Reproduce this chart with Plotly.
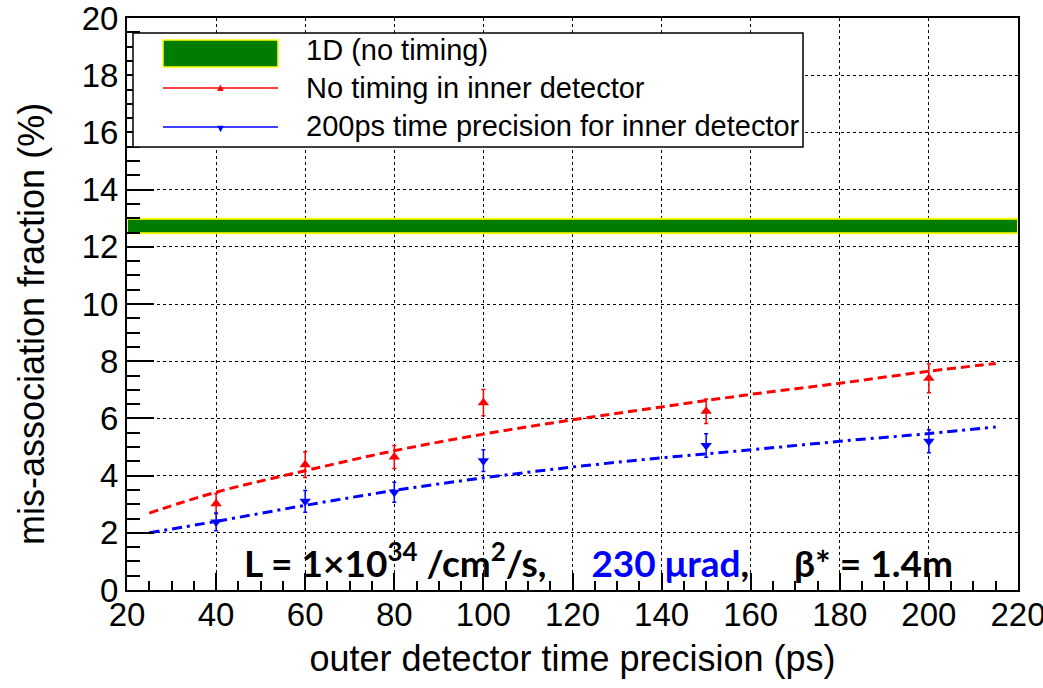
import plotly.graph_objects as go

# ---- data ----
outer_ps = [40, 60, 80, 100, 150, 200]
red_vals = [3.02, 4.38, 4.65, 6.55, 6.25, 7.40]
red_errs = [0.35, 0.45, 0.40, 0.46, 0.43, 0.50]
blue_vals = [2.38, 3.10, 3.42, 4.52, 5.05, 5.20]
blue_errs = [0.31, 0.38, 0.35, 0.38, 0.41, 0.40]

fit_x = [25, 40, 60, 80, 100, 120, 140, 160, 180, 200, 215]
red_fit = [2.69, 3.42, 4.17, 4.87, 5.45, 5.95, 6.40, 6.84, 7.23, 7.65, 7.92]
blue_fit = [2.00, 2.40, 2.96, 3.48, 3.92, 4.30, 4.62, 4.90, 5.20, 5.47, 5.70]

band_x = [20, 220]
band_lo = 12.47
band_hi = 12.98

x_ticks = [20, 40, 60, 80, 100, 120, 140, 160, 180, 200, 220]
y_ticks = [0, 2, 4, 6, 8, 10, 12, 14, 16, 18, 20]

RED = "#ff0000"
BLUE = "#0000ff"
GREEN = "#007d00"
FONT = "Liberation Sans, Arial, sans-serif"

fig = go.Figure()

# 1D band
fig.add_trace(go.Scatter(
    x=[band_x[0], band_x[1], band_x[1], band_x[0], band_x[0]],
    y=[band_lo, band_lo, band_hi, band_hi, band_lo],
    fill="toself", fillcolor=GREEN, mode="lines",
    line=dict(color="#ffff00", width=2), showlegend=False, hoverinfo="skip"))

# fits
fig.add_trace(go.Scatter(x=fit_x, y=red_fit, mode="lines", line_shape="spline",
                         line=dict(color=RED, width=3, dash="9px,5px"), showlegend=False))
fig.add_trace(go.Scatter(x=fit_x, y=blue_fit, mode="lines", line_shape="spline",
                         line=dict(color=BLUE, width=3, dash="10px,5px,3px,5px"), showlegend=False))

# data points
fig.add_trace(go.Scatter(x=outer_ps, y=red_vals, mode="markers",
                         marker=dict(symbol="triangle-up", size=10, color=RED),
                         error_y=dict(type="data", array=red_errs, color=RED, thickness=1.5, width=2),
                         showlegend=False))
fig.add_trace(go.Scatter(x=outer_ps, y=blue_vals, mode="markers",
                         marker=dict(symbol="triangle-down", size=10, color=BLUE),
                         error_y=dict(type="data", array=blue_errs, color=BLUE, thickness=1.5, width=2),
                         showlegend=False))

# ---- manual legend (paper coords) ----
def px(x):
    return (x - 127) / 891.0

def py(y):
    return (590 - y) / 572.0

shapes = []
annotations = []
shapes.append(dict(type="rect", xref="paper", yref="paper", x0=px(133), x1=px(803), y0=py(147), y1=py(33),
                   line=dict(color="black", width=1.5), fillcolor="white", layer="above"))
shapes.append(dict(type="rect", xref="paper", yref="paper", x0=px(163), x1=px(278), y0=py(67), y1=py(40),
                   line=dict(color="#ffff00", width=1.5), fillcolor=GREEN, layer="above"))
shapes.append(dict(type="line", xref="paper", yref="paper", x0=px(163), x1=px(278), y0=py(88), y1=py(88),
                   line=dict(color=RED, width=1.5), layer="above"))
shapes.append(dict(type="line", xref="paper", yref="paper", x0=px(163), x1=px(278), y0=py(127), y1=py(127),
                   line=dict(color=BLUE, width=1.5), layer="above"))
annotations.append(dict(xref="paper", yref="paper", x=px(220), y=py(87), text="▲", showarrow=False,
                        font=dict(size=11, color=RED), xanchor="center", yanchor="middle"))
annotations.append(dict(xref="paper", yref="paper", x=px(220), y=py(128), text="▼", showarrow=False,
                        font=dict(size=11, color=BLUE), xanchor="center", yanchor="middle"))
for txt, yy in [("1D (no timing)", 50), ("No timing in inner detector", 88),
                ("200ps time precision for inner detector", 126)]:
    annotations.append(dict(xref="paper", yref="paper", x=px(304), y=py(yy), text=txt, showarrow=False,
                            font=dict(size=29, color="black", family=FONT), xanchor="left", yanchor="middle"))

sp = "\u00a0" * 5
annotations.append(dict(
    xref="paper", yref="paper", x=px(598), y=py(560), showarrow=False, xanchor="center", yanchor="middle",
    text=("<b>L = 1×10<sup>34</sup> /cm<sup>2</sup>/s," + sp +
          "<span style='color:#0000ff'>230 μrad</span>," + sp + "β* = 1.4m</b>"),
    font=dict(size=37, color="black", family="Lato, sans-serif")))

# y-axis title
annotations.append(dict(xref="paper", yref="paper", x=px(31), y=py(324), text="mis-association fraction (%)",
                        textangle=-90, showarrow=False, xanchor="center", yanchor="middle",
                        font=dict(size=36, color="black", family=FONT)))

fig.update_layout(
    width=1043, height=688,
    margin=dict(l=127, r=25, t=18, b=98, autoexpand=False),
    paper_bgcolor="white", plot_bgcolor="white",
    font=dict(family=FONT, color="black"),
    shapes=shapes, annotations=annotations,
    xaxis=dict(range=[20, 220], tickvals=x_ticks, ticktext=[str(v) for v in x_ticks],
               ticks="inside", ticklen=17, tickwidth=1.5, tickcolor="black",
               minor=dict(ticks="inside", ticklen=9, dtick=5, tick0=20, tickcolor="black", tickwidth=1.5, showgrid=False),
               showline=True, linecolor="black", linewidth=2, mirror=True,
               showgrid=True, gridcolor="black", griddash="dot", gridwidth=1,
               zeroline=False, tickfont=dict(size=33), ticklabeloverflow="allow",
               ticklabelstandoff=-6, automargin=False,
               title=dict(text="outer detector time precision (ps)", font=dict(size=36), standoff=14)),
    yaxis=dict(range=[0, 20], tickvals=y_ticks, ticktext=[str(v) for v in y_ticks],
               ticks="inside", ticklen=27, tickwidth=1.5, tickcolor="black",
               minor=dict(ticks="inside", ticklen=13, dtick=0.5, tick0=0, tickcolor="black", tickwidth=1.5, showgrid=False),
               showline=True, linecolor="black", linewidth=2, mirror=True,
               showgrid=True, gridcolor="black", griddash="dot", gridwidth=1,
               zeroline=False, tickfont=dict(size=33), ticklabeloverflow="allow", automargin=False),
)

fig.write_html("out.html")
